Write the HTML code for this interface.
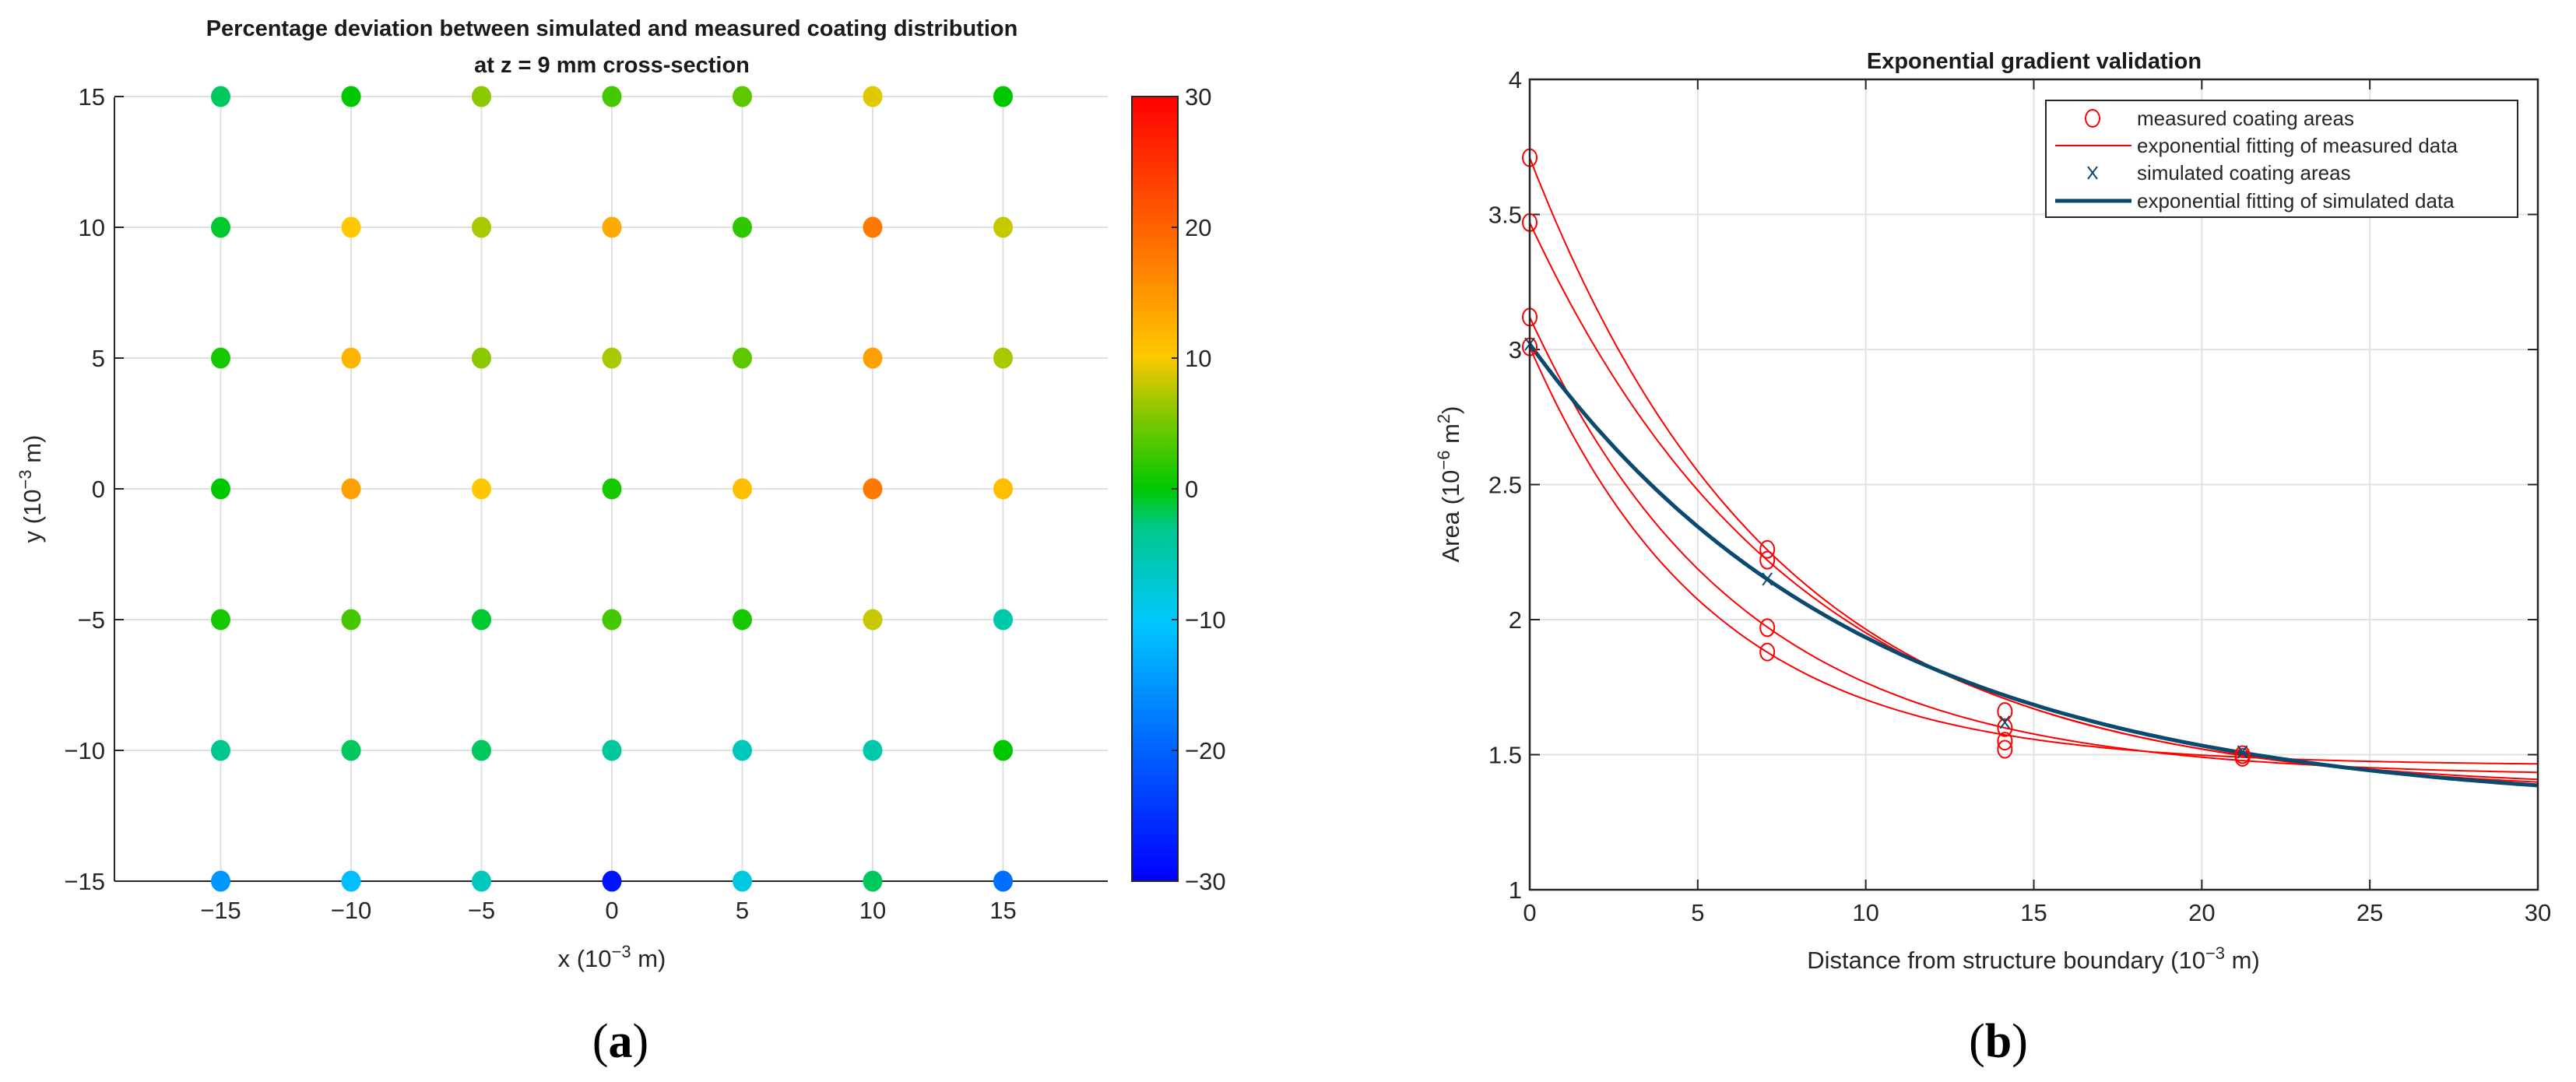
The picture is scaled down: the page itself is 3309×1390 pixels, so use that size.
<!DOCTYPE html>
<html><head><meta charset="utf-8"><style>
body{margin:0;background:#fff;}
svg{display:block;font-family:"Liberation Sans",Arial,sans-serif;}
</style></head><body>
<svg id="fig" width="3309" height="1390" viewBox="0 0 3309 1390" xmlns="http://www.w3.org/2000/svg">
<defs>
<linearGradient id="cmap" x1="0" y1="1" x2="0" y2="0">
<stop offset="0" stop-color="#0000ff"/><stop offset="0.17" stop-color="#0064ff"/><stop offset="0.33" stop-color="#00c8ff"/><stop offset="0.45" stop-color="#00c88c"/><stop offset="0.5" stop-color="#00c800"/><stop offset="0.6" stop-color="#8cc800"/><stop offset="0.67" stop-color="#ffc800"/><stop offset="0.83" stop-color="#ff6400"/><stop offset="1" stop-color="#ff0000"/>
</linearGradient>
</defs>
<g id="left"></g>
<g id="right"></g>
</svg>
<script>
// ---- Left chart data ----
const gridX = [-15,-10,-5,0,5,10,15];
const gridY = [15,10,5,0,-5,-10,-15];
const deviation = [
 [-2,0,6,3,4,9,0],
 [-1,10,7,13,2,18,8],
 [1,12,6,7,4,14,7],
 [0,14,10,1,11,18,11],
 [1,3,-1,3,1,8,-5],
 [-3,-2,-2,-4,-6,-5,0],
 [-15,-11,-6,-28,-8,-2,-19]
];
const leftTicks = [-15,-10,-5,0,5,10,15];
const cbarTicks = [30,20,10,0,-10,-20,-30];
// ---- Right chart data ----
const measX = [0,0,0,0,7.07,7.07,7.07,7.07,14.14,14.14,14.14,14.14,21.21,21.21];
const measY = [3.71,3.47,3.12,3.01,2.26,2.22,1.97,1.88,1.66,1.60,1.55,1.52,1.50,1.49];
const simX = [0,7.07,14.14,21.21];
const simY = [3.02,2.15,1.62,1.51];
const fitA = [2.34,2.12,1.70,1.55];
const fitB = [0.137,0.126,0.159,0.185];
const fitC = [1.37,1.35,1.42,1.46];
const simFitA = [1.72];
const simFitB = [0.0998];
const simFitC = [1.30];
const rXTicks = [0,5,10,15,20,25,30];
const rYTicks = [1,1.5,2,2.5,3,3.5,4];

const NS='http://www.w3.org/2000/svg';
function mk(parent,tag,attrs,text){const e=document.createElementNS(NS,tag);for(const k in attrs)e.setAttribute(k,attrs[k]);if(text!==undefined)e.textContent=text;parent.appendChild(e);return e;}

function cmap(v){
 const stops=[[-30,[0,0,255]],[-20,[0,100,255]],[-10,[0,200,255]],[-3,[0,200,140]],[0,[0,200,0]],[6,[140,200,0]],[10,[255,200,0]],[20,[255,100,0]],[30,[255,0,0]]];
 v=Math.max(-30,Math.min(30,v));
 for(let i=0;i<stops.length-1;i++){const [a,ca]=stops[i],[b,cb]=stops[i+1];if(v<=b){const t=(v-a)/(b-a);return 'rgb('+ca.map((c,j)=>Math.round(c+(cb[j]-c)*t)).join(',')+')';}}
 return 'rgb(255,0,0)';
}

// ---------- LEFT ----------
const L=document.getElementById('left');
const lx0=147,lx1=1423,ly0=125,ly1=1132;
const sxL=v=>786+v*33.5;
const syL=v=>628-v*33.6;
const cbY=v=>628-v*16.8;
leftTicks.forEach(t=>{
 const gx=mk(L,'line',{x1:sxL(t),x2:sxL(t),y1:ly0,y2:ly1,stroke:'#e0e0e0','stroke-width':2});
 
 const gy=mk(L,'line',{x1:lx0,x2:lx1,y1:syL(t),y2:syL(t),stroke:'#e0e0e0','stroke-width':2});
 
});
let a=mk(L,'line',{x1:lx0,x2:lx1,y1:ly1,y2:ly1,stroke:'#262626','stroke-width':2});

a=mk(L,'line',{x1:lx0,x2:lx0,y1:ly0,y2:ly1,stroke:'#262626','stroke-width':2});

leftTicks.forEach(t=>{
 let tk=mk(L,'line',{x1:lx0,x2:lx0+12,y1:syL(t),y2:syL(t),stroke:'#262626','stroke-width':2});
 
 let tl=mk(L,'text',{x:lx0-12,y:syL(t)+11,'text-anchor':'end','font-size':31,fill:'#262626'},String(t).replace('-','−'));
 
 let xl=mk(L,'text',{x:sxL(t),y:1180,'text-anchor':'middle','font-size':31,fill:'#262626'},String(t).replace('-','−'));
 
});
gridY.forEach((yv,i)=>gridX.forEach((xv,j)=>{
 const c=mk(L,'ellipse',{cx:sxL(xv),cy:syL(yv),rx:12.5,ry:13.5,fill:cmap(deviation[i][j])});
 
 
}));
let t1=mk(L,'text',{x:786,y:46,'text-anchor':'middle','font-size':29,'font-weight':'bold',fill:'#1a1a1a'},'Percentage deviation between simulated and measured coating distribution');

t1=mk(L,'text',{x:786,y:93,'text-anchor':'middle','font-size':29,'font-weight':'bold',fill:'#1a1a1a'},'at z = 9 mm cross-section');

let xt=mk(L,'text',{x:786,y:1242,'text-anchor':'middle','font-size':31,fill:'#262626'});
xt.innerHTML='x (10<tspan dy="-12" font-size="22">−3</tspan><tspan dy="12"> m)</tspan>';

let yt=mk(L,'text',{x:0,y:0,'text-anchor':'middle','font-size':31,fill:'#262626',transform:'translate(52,628) rotate(-90)'});
yt.innerHTML='y (10<tspan dy="-12" font-size="22">−3</tspan><tspan dy="12"> m)</tspan>';

let cb=mk(L,'rect',{x:1454,y:124,width:59,height:1008,fill:'url(#cmap)',stroke:'#262626','stroke-width':2});

cbarTicks.forEach(t=>{
 let tk=mk(L,'line',{x1:1505,x2:1513,y1:cbY(t),y2:cbY(t),stroke:'#262626','stroke-width':2});
 
 let tl=mk(L,'text',{x:1522,y:cbY(t)+11,'font-size':31,fill:'#262626'},String(t).replace('-','−'));
 
});
let pa=mk(L,'text',{x:797,y:1358,'text-anchor':'middle','font-size':62,'font-family':'Liberation Serif, serif',fill:'#000'});
pa.innerHTML='(<tspan font-weight="bold">a</tspan>)';


// ---------- RIGHT ----------
const R=document.getElementById('right');
const rx0=1965,rx1=3260,ry0=102,ry1=1143;
const sxR=v=>rx0+(v-0)/30*(rx1-rx0);
const syR=v=>ry1-(v-1)/3*(ry1-ry0);
rXTicks.forEach(t=>{
 let g=mk(R,'line',{x1:sxR(t),x2:sxR(t),y1:ry0,y2:ry1,stroke:'#e3e3e3','stroke-width':2});
 
 let tk=mk(R,'line',{x1:sxR(t),x2:sxR(t),y1:ry1,y2:ry1-13,stroke:'#262626','stroke-width':2});
 
 tk=mk(R,'line',{x1:sxR(t),x2:sxR(t),y1:ry0,y2:ry0+13,stroke:'#262626','stroke-width':2});
 
 let tl=mk(R,'text',{x:sxR(t),y:1183,'text-anchor':'middle','font-size':31,fill:'#262626'},String(t));
 
});
rYTicks.forEach(t=>{
 let g=mk(R,'line',{x1:rx0,x2:rx1,y1:syR(t),y2:syR(t),stroke:'#e3e3e3','stroke-width':2});
 
 let tk=mk(R,'line',{x1:rx0,x2:rx0+13,y1:syR(t),y2:syR(t),stroke:'#262626','stroke-width':2});
 
 tk=mk(R,'line',{x1:rx1,x2:rx1-13,y1:syR(t),y2:syR(t),stroke:'#262626','stroke-width':2});
 
 let tl=mk(R,'text',{x:rx0-10,y:syR(t)+11,'text-anchor':'end','font-size':31,fill:'#262626'},String(t));
 
});
function curve(A,B,C){let d='';for(let i=0;i<=150;i++){const x=30*i/150;d+=(i?'L':'M')+sxR(x).toFixed(1)+','+syR(C+A*Math.exp(-B*x)).toFixed(1);}return d;}
fitA.forEach((A,i)=>{
 const p=mk(R,'path',{d:curve(A,fitB[i],fitC[i]),fill:'none',stroke:'#ff0000','stroke-width':2});
 
 
});
const sp=mk(R,'path',{d:curve(simFitA[0],simFitB[0],simFitC[0]),fill:'none',stroke:'#0a4a6e','stroke-width':5});


measX.forEach((x,i)=>{
 const m=mk(R,'ellipse',{cx:sxR(x),cy:syR(measY[i]),rx:9,ry:11,fill:'none',stroke:'#ff0000','stroke-width':2});
 
 
});
simX.forEach((x,i)=>{
 const cx=sxR(x),cy=syR(simY[i]);
 const s=mk(R,'path',{d:`M${cx-6},${cy-8}L${cx+6},${cy+8}M${cx+6},${cy-8}L${cx-6},${cy+8}`,stroke:'#0a4a6e','stroke-width':2,fill:'none'});
 
 
});
let box=mk(R,'rect',{x:rx0,y:ry0,width:rx1-rx0,height:ry1-ry0,fill:'none',stroke:'#262626','stroke-width':2.5});

let rt=mk(R,'text',{x:2613,y:88,'text-anchor':'middle','font-size':29,'font-weight':'bold',fill:'#1a1a1a'},'Exponential gradient validation');

let rxt=mk(R,'text',{x:2612,y:1244,'text-anchor':'middle','font-size':31,fill:'#262626'});
rxt.innerHTML='Distance from structure boundary (10<tspan dy="-12" font-size="22">−3</tspan><tspan dy="12"> m)</tspan>';

let ryt=mk(R,'text',{x:0,y:0,'text-anchor':'middle','font-size':31,fill:'#262626',transform:'translate(1874,622) rotate(-90)'});
ryt.innerHTML='Area (10<tspan dy="-12" font-size="22">−6</tspan><tspan dy="12"> m</tspan><tspan dy="-12" font-size="22">2</tspan><tspan dy="12">)</tspan>';

// legend
const lg=mk(R,'g',{});

mk(lg,'rect',{x:2628,y:129,width:606,height:150,fill:'#fff',stroke:'#262626','stroke-width':2});
const ly=[152,187,222,258];
mk(lg,'ellipse',{cx:2688,cy:ly[0],rx:9,ry:11,fill:'none',stroke:'#ff0000','stroke-width':2});
mk(lg,'line',{x1:2640,x2:2738,y1:ly[1],y2:ly[1],stroke:'#ff0000','stroke-width':2});
mk(lg,'path',{d:`M2682,${ly[2]-8}L2694,${ly[2]+8}M2694,${ly[2]-8}L2682,${ly[2]+8}`,stroke:'#0a4a6e','stroke-width':2});
mk(lg,'line',{x1:2640,x2:2738,y1:ly[3],y2:ly[3],stroke:'#0a4a6e','stroke-width':5});
const lt=['measured coating areas','exponential fitting of measured data','simulated coating areas','exponential fitting of simulated data'];
lt.forEach((s,i)=>{
 const e=mk(lg,'text',{x:2745,y:ly[i]+9,'font-size':26,fill:'#262626'},s);
 
 
});
let pb=mk(R,'text',{x:2567,y:1358,'text-anchor':'middle','font-size':62,'font-family':'Liberation Serif, serif',fill:'#000'});
pb.innerHTML='(<tspan font-weight="bold">b</tspan>)';

</script>
</body></html>
